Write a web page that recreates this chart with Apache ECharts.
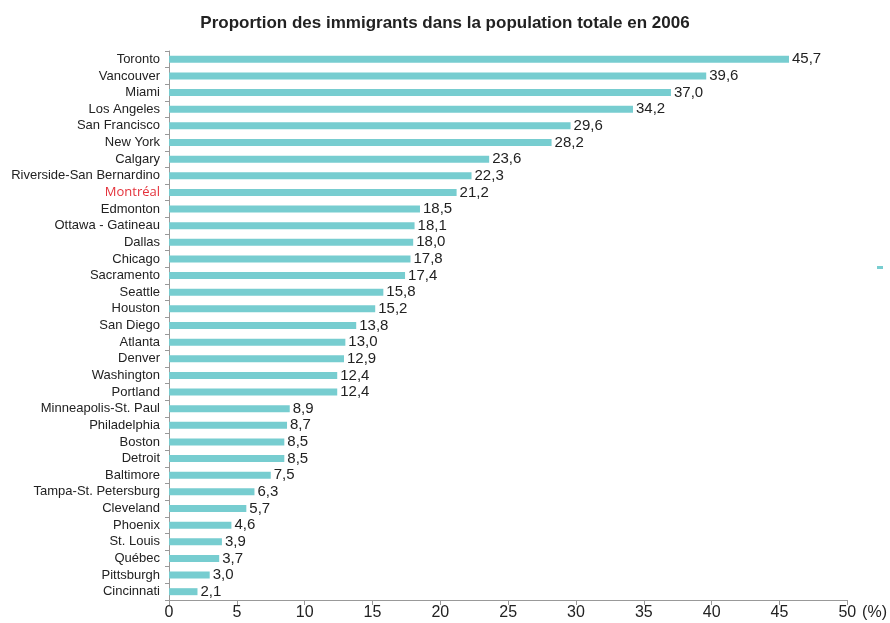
<!DOCTYPE html>
<html>
<head>
<meta charset="utf-8">
<script src="https://cdn.jsdelivr.net/npm/echarts@6/dist/echarts.min.js"></script>
<style>
  html, body { margin: 0; padding: 0; background: #fff; }
  #chart { width: 890px; height: 623px; }
</style>
</head>
<body>
<div id="chart"></div>
<script>
// Metropolitan areas, top to bottom
const cities = [
  'Toronto', 'Vancouver', 'Miami', 'Los Angeles', 'San Francisco', 'New York',
  'Calgary', 'Riverside-San Bernardino', 'Montréal', 'Edmonton', 'Ottawa - Gatineau',
  'Dallas', 'Chicago', 'Sacramento', 'Seattle', 'Houston', 'San Diego', 'Atlanta',
  'Denver', 'Washington', 'Portland', 'Minneapolis-St. Paul', 'Philadelphia',
  'Boston', 'Detroit', 'Baltimore', 'Tampa-St. Petersburg', 'Cleveland', 'Phoenix',
  'St. Louis', 'Québec', 'Pittsburgh', 'Cincinnati'
];
// Share of immigrants in total population, 2006 (%)
const shares = [
  45.7, 39.6, 37.0, 34.2, 29.6, 28.2,
  23.6, 22.3, 21.2, 18.5, 18.1,
  18.0, 17.8, 17.4, 15.8, 15.2, 13.8, 13.0,
  12.9, 12.4, 12.4, 8.9, 8.7,
  8.5, 8.5, 7.5, 6.3, 5.7, 4.6,
  3.9, 3.7, 3.0, 2.1
];
const xTicks = [0, 5, 10, 15, 20, 25, 30, 35, 40, 45, 50];
const highlightCity = 'Montréal';

const sans = 'Liberation Sans';

const chart = echarts.init(document.getElementById('chart'));
chart.setOption({
  animation: false,
  title: {
    text: 'Proportion des immigrants dans la population totale en 2006',
    left: 'center',
    top: 10,
    textStyle: { fontFamily: sans, fontSize: 17, fontWeight: 'bold', color: '#222' }
  },
  legend: {
    right: 2,
    top: 261,
    data: ['share'],
    icon: 'rect',
    itemWidth: 6,
    itemHeight: 3,
    formatter: () => '',
    selectedMode: false
  },
  grid: { left: 169, right: 42, top: 51, bottom: 23, containLabel: false },
  xAxis: {
    type: 'value',
    min: xTicks[0],
    max: xTicks[xTicks.length - 1],
    interval: 5,
    name: '(%)',
    nameLocation: 'end',
    nameGap: 3,
    nameTextStyle: { fontFamily: sans, fontSize: 16, color: '#222', verticalAlign: 'top', padding: [5, 0, 0, 0] },
    axisLine: { show: true, lineStyle: { color: '#999', width: 1 } },
    axisTick: { show: true, length: 5, lineStyle: { color: '#999' } },
    axisLabel: { fontFamily: sans, fontSize: 16, color: '#222', margin: 5 },
    splitLine: { show: false }
  },
  yAxis: {
    type: 'category',
    data: cities,
    inverse: true,
    axisLine: { show: true, lineStyle: { color: '#999', width: 1 } },
    axisTick: { show: true, interval: 0, length: 4, lineStyle: { color: '#999' } },
    axisLabel: {
      interval: 0,
      margin: 9,
      fontFamily: sans,
      fontSize: 13,
      color: '#222',
      formatter: (v) => v === highlightCity ? '{hl|' + v + '}' : v,
      rich: {
        hl: { fontFamily: 'Open Sans', fontSize: 13, color: '#e4323b' }
      }
    }
  },
  series: [{
    name: 'share',
    type: 'bar',
    data: shares,
    barWidth: 7,
    itemStyle: { color: '#77cdd0' },
    label: {
      show: true,
      position: 'right',
      distance: 3,
      fontFamily: sans,
      fontSize: 15,
      color: '#222',
      formatter: (p) => p.value.toFixed(1).replace('.', ',')
    }
  }]
});
</script>
</body>
</html>
